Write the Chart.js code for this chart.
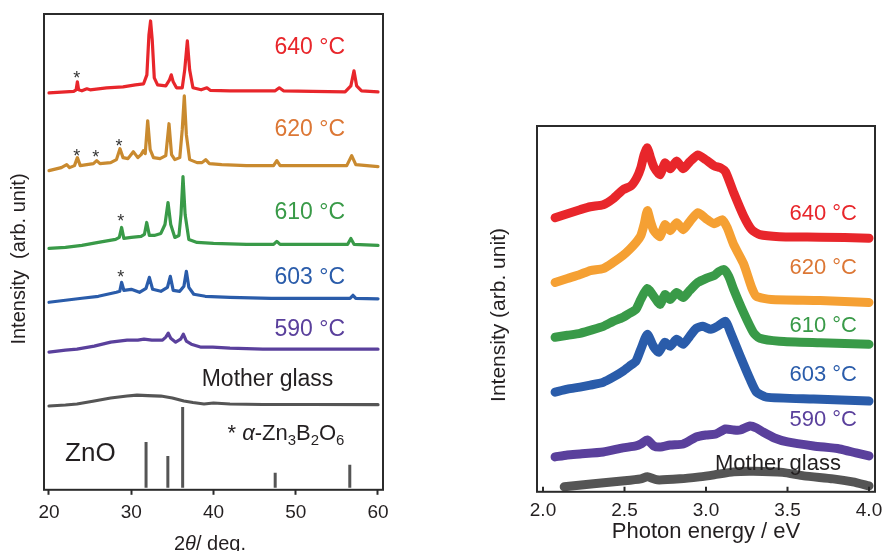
<!DOCTYPE html>
<html><head><meta charset="utf-8">
<script src="https://cdn.jsdelivr.net/npm/chart.js@4.4.1/dist/chart.umd.min.js"></script>
<style>
html,body{margin:0;padding:0;background:#fff;}
#wrap{position:relative;width:885px;height:551px;overflow:hidden;background:#fff;}
canvas{position:absolute;top:0;}
#cL{left:0;} #cR{left:470px;}
</style></head><body>
<div id="wrap"><canvas id="cL" width="420" height="551"></canvas><canvas id="cR" width="445" height="551"></canvas></div>
<script>
// ---------- Left panel: XRD (2θ in deg, intensity arb. units, offset stacked) ----------
const xrdTicks = [20, 30, 40, 50, 60];
const x640 = [20,22,23,23.3,23.45,23.6,24,24.6,25,27,29,30.5,31.5,31.9,32.15,32.35,32.55,32.8,33.2,34.2,34.65,34.87,35.1,35.5,36.2,36.5,36.82,37.1,37.5,38.5,39.2,39.6,42,45,47.5,48,48.5,52,56,56.7,57.08,57.4,58,60];
const y640 = [398,399,399.5,401,409,401,400,402,401,403,404,406,407,416,456,470,451,413,406,405,411,416,409,403,403,421,450,421,403,401,403,400.5,400,400,400,403,400,399.5,399,405,420,405,400,399];
const x620 = [20,21.5,22.15,22.5,23.1,23.45,23.8,25.4,25.8,26.2,27.5,28.2,28.63,29.0,29.6,30.25,30.8,31.2,31.47,31.7,32.0,32.3,32.7,33.5,34.2,34.59,34.9,35.3,35.9,36.2,36.45,36.7,37.1,38,38.6,39.05,39.5,41,44,47.3,47.7,48.1,52,56.2,56.8,57.3,60];
const y620 = [320,323,326,323,325,333,325,327,330,327,328,331,342,333,332,339,333,336,340,337,370,341,333,332,335,367,336,331,333,361,395,356,331,328,328,331,327,326,325,325,330,325,325,325,335,326,324];
const x610 = [20,22,24,26,28.1,28.55,28.83,29.1,30,31.2,31.6,31.88,32.2,32.8,33.6,34.1,34.47,34.8,35.3,35.8,36.05,36.29,36.55,37.0,38,40,44,47.3,47.7,48.1,52,56.3,56.7,57.1,60];
const y610 = [242,243,245,248,251,253,263,252,253,254,256,268,255,255,257,266,288,266,253,255,276,314,276,251,248,247,246,246,249,246,246,246,252,246,245];
const x603 = [20,22,24,26,28.2,28.6,28.83,29.1,30,31.0,31.8,32.2,32.6,33.6,34.4,34.75,35.1,35.9,36.4,36.7,37.0,37.6,39,42,47,52,56.6,56.96,57.3,60];
const y603 = [188,190,192,194,198,199,208,200,201,198,202,213,201,199,203,214,200,199,204,219,203,196,194,193,192,192,192,195,192,191.5];
const x590 = [20,22,23.4,25.5,27.5,29.5,30.8,31.55,32.5,33.8,34.2,34.5,34.8,35.4,36.0,36.33,36.7,37.3,38.5,39.9,42,46,50,55,60];
const y590 = [138,140,141,144,148,150,150,151,150,150,153,157,152,148,151,156,149,146,143,143,142,141,141,141,141];
const xMG = [20,22,23.4,25.5,27.5,29.5,30.7,32,33.6,35,36.4,37.5,38.85,40,42,46,52,60];
const yMG = [84,85,86,89,92,94,95,94.5,94,92,89,87.5,86,87,86,85.5,85.5,85.3];
const znoPos = [31.8, 34.45, 36.25, 47.5, 56.57];
const znoTop = [48, 34, 83, 17, 25];
const znoBase = 2;
// α-Zn3B2O6 peak markers (*): 2θ and height
const starX = [23.37, 23.37, 25.68, 28.51, 28.72, 28.72];
const starY = [416, 337.7, 337, 347.7, 272.7, 216];

// ---------- Right panel: spectra vs photon energy (eV) ----------
const eTicks = [2.0, 2.5, 3.0, 3.5, 4.0];
const e640 = [2.074,2.15,2.227,2.29,2.37,2.43,2.49,2.54,2.575,2.60,2.62,2.64,2.66,2.68,2.718,2.748,2.78,2.82,2.86,2.90,2.95,3.0,3.05,3.09,3.12,3.17,3.23,3.28,3.33,3.45,3.7,4.0];
const i640 = [275,279,283,286,288,294,303,307,315,325,338,345,335,326,318,330,324,332,324,331,338,333,327,325,321,300,277,263,258,256,255.5,254.5];
const e620 = [2.074,2.15,2.227,2.29,2.37,2.43,2.49,2.53,2.57,2.60,2.62,2.64,2.66,2.68,2.718,2.748,2.78,2.82,2.86,2.90,2.95,3.0,3.05,3.10,3.13,3.17,3.23,3.28,3.31,3.4,3.7,4.0];
const i620 = [210,214,218,222,224,230,237,243,250,257,268,282,271,262,256,268,262,270,263,271,280,274,269,273,265,248,229,205,196,193,192,190];
const e610 = [2.074,2.15,2.227,2.29,2.37,2.43,2.49,2.53,2.57,2.60,2.64,2.68,2.718,2.748,2.78,2.82,2.86,2.90,2.95,3.0,3.05,3.08,3.11,3.14,3.17,3.23,3.29,3.33,3.45,3.7,4.0];
const i610 = [155,157,159,162,166,171,175,179,183,193,204,196,188,198,193,200,195,202,210,214,217,221,223,216,203,180,160,154,151,149.5,148];
const e603 = [2.074,2.15,2.227,2.29,2.37,2.43,2.49,2.53,2.57,2.60,2.64,2.677,2.71,2.748,2.78,2.82,2.86,2.90,2.94,2.98,3.03,3.07,3.12,3.15,3.21,3.27,3.31,3.37,3.66,4.0];
const i603 = [100,103,105,107,110,115,121,126,131,143,158,146,140,150,146,153,148,156,164,166,163,166,171,160,136,113,100,95,93,91];
const e590 = [2.074,2.15,2.227,2.37,2.49,2.57,2.60,2.64,2.68,2.72,2.78,2.86,2.94,3.0,3.06,3.12,3.17,3.21,3.27,3.31,3.35,3.42,3.5,3.66,3.82,3.92,4.0];
const i590 = [35,37,38,40,44,46,48,52,46,45,47,48,55,57,58,63,62,62,66,64,60,54,50,46,43,39,36];
const eMG = [2.13,2.31,2.5,2.6,2.64,2.7,2.84,2.96,3.05,3.17,3.29,3.47,3.6,3.78,3.9,4.0];
const iMG = [5,8,11,13,15,12,13,15,17,20,20.5,19.5,16,13,10,6];

// ---------- styling ----------
const FONT = "'Liberation Sans', Arial, Helvetica, sans-serif";
const C = {red:'#e8262b', ochre:'#c98a2f', orange:'#f5a033', orangeText:'#dc7735', green:'#399a48', blue:'#2a5caa', purple:'#5a409c', grey:'#555555', text:'#231f20', frame:'#2b2b2b'};

const pts = (xs, ys) => xs.map((x, i) => ({x, y: ys[i]}));
function sticks(pos, tops, base) {
  const out = [];
  pos.forEach((p, i) => { out.push({x:p, y:base}, {x:p, y:tops[i]}, {x:p, y:null}); });
  return out;
}

function drawRich(ctx, segs, x, yc, size, color, align) {
  const parts = segs.map(([t, f]) => {
    f = f || '';
    const sub = f.includes('s'), it = f.includes('i');
    const sz = sub ? size * 0.68 : size;
    const font = (it ? 'italic ' : '') + sz + 'px ' + FONT;
    ctx.font = font;
    return {t, font, w: ctx.measureText(t).width, dy: sub ? size * 0.22 : 0};
  });
  const total = parts.reduce((a, p) => a + p.w, 0);
  let cx = align === 'right' ? x - total : align === 'center' ? x - total / 2 : x;
  const base = yc + size * 0.36;
  ctx.fillStyle = color; ctx.textBaseline = 'alphabetic'; ctx.textAlign = 'left';
  parts.forEach(p => { ctx.font = p.font; ctx.fillText(p.t, cx, base + p.dy); cx += p.w; });
}

const decor = {
  id: 'decor',
  afterDraw(chart, args, opts) {
    const ctx = chart.ctx, a = chart.chartArea, sx = chart.scales.x, sy = chart.scales.y;
    ctx.save();
    ctx.strokeStyle = C.frame; ctx.lineWidth = 2;
    ctx.strokeRect(a.left, a.top, a.right - a.left, a.bottom - a.top);
    if (opts.insideTicks) {
      ctx.beginPath();
      opts.insideTicks.forEach(v => { const px = sx.getPixelForValue(v); ctx.moveTo(px, a.bottom); ctx.lineTo(px, a.bottom - 5); });
      ctx.stroke();
    }
    (opts.stars || []).forEach(s => {
      ctx.font = '18px ' + FONT; ctx.fillStyle = '#333'; ctx.textAlign = 'center'; ctx.textBaseline = 'middle';
      ctx.fillText('*', sx.getPixelForValue(s.x), sy.getPixelForValue(s.y) + 4);
    });
    (opts.labels || []).forEach(l => {
      drawRich(ctx, l.segs, sx.getPixelForValue(l.x), sy.getPixelForValue(l.y), l.size, l.color, l.align);
    });
    (opts.titles || []).forEach(t => {
      ctx.save();
      ctx.translate(t.px, t.py);
      if (t.rot) ctx.rotate(t.rot);
      drawRich(ctx, t.segs, 0, 0, t.size, C.text, 'center');
      ctx.restore();
    });
    ctx.restore();
  }
};

function lineDS(data, color, width, tension) {
  return {data, borderColor: color, backgroundColor: color, borderWidth: width, pointRadius: 0,
          tension: tension, borderCapStyle: 'round', borderJoinStyle: 'round', spanGaps: false};
}

function xScale(min, max, tickVals, fmt, pad, outsideTicks) {
  return {
    type: 'linear', min, max, offset: false,
    afterBuildTicks: s => { s.ticks = tickVals.map(v => ({value: v})); },
    ticks: {color: C.text, font: {family: FONT, size: 19}, padding: pad, maxRotation: 0, autoSkip: false,
            callback: v => fmt(v)},
    grid: outsideTicks ? {display: true, drawOnChartArea: false, drawTicks: true, tickLength: 5, tickWidth: 2, tickColor: C.frame}
                       : {display: false, drawTicks: false},
    border: {display: false}
  };
}

new Chart(document.getElementById('cL'), {
  type: 'line',
  data: {datasets: [
    Object.assign(lineDS(sticks(znoPos, znoTop, znoBase), C.grey, 3, 0), {borderCapStyle: 'butt'}),
    lineDS(pts(xMG, yMG), C.grey, 3.2, 0),
    lineDS(pts(x590, y590), C.purple, 3.2, 0),
    lineDS(pts(x603, y603), C.blue, 3.2, 0),
    lineDS(pts(x610, y610), C.green, 3.2, 0),
    lineDS(pts(x620, y620), C.ochre, 3.2, 0),
    lineDS(pts(x640, y640), C.red, 3.2, 0)
  ]},
  options: {
    responsive: false, animation: false, devicePixelRatio: 1,
    layout: {padding: {left: 44, right: 37, top: 14, bottom: 19.4}},
    scales: {
      x: xScale(20 - 5 / 8.225, 60 + 5 / 8.225, xrdTicks, v => String(v), 7, true),
      y: {type: 'linear', min: 0, max: 477, display: false}
    },
    plugins: {
      legend: {display: false}, tooltip: {enabled: false},
      decor: {
        stars: starX.map((x, i) => ({x, y: starY[i]})),
        labels: [
          {x: 56.0, y: 445, segs: [['640 °C']], size: 23, color: C.red, align: 'right'},
          {x: 56.0, y: 362.5, segs: [['620 °C']], size: 23, color: C.orangeText, align: 'right'},
          {x: 56.0, y: 280, segs: [['610 °C']], size: 23, color: C.green, align: 'right'},
          {x: 56.0, y: 215, segs: [['603 °C']], size: 23, color: C.blue, align: 'right'},
          {x: 56.0, y: 162.5, segs: [['590 °C']], size: 23, color: C.purple, align: 'right'},
          {x: 46.57, y: 112, segs: [['Mother glass']], size: 23, color: C.text, align: 'center'},
          {x: 21.95, y: 38, segs: [['ZnO']], size: 26, color: C.text, align: 'left'},
          {x: 41.7, y: 58, segs: [['* '], ['α', 'i'], ['-Zn'], ['3', 's'], ['B'], ['2', 's'], ['O'], ['6', 's']], size: 22, color: C.text, align: 'left'}
        ],
        titles: [
          {px: 210, py: 543, segs: [['2'], ['θ', 'i'], ['/ deg.']], size: 20},
          {px: 18, py: 259, rot: -Math.PI / 2, segs: [['Intensity  (arb. unit)']], size: 20}
        ]
      }
    }
  },
  plugins: [decor]
});

new Chart(document.getElementById('cR'), {
  type: 'line',
  data: {datasets: [
    lineDS(pts(eMG, iMG), C.grey, 9, 0.2),
    lineDS(pts(e590, i590), C.purple, 9, 0.2),
    lineDS(pts(e603, i603), C.blue, 9, 0.2),
    lineDS(pts(e610, i610), C.green, 9, 0.2),
    lineDS(pts(e620, i620), C.orange, 9, 0.2),
    lineDS(pts(e640, i640), C.red, 9, 0.2)
  ]},
  options: {
    responsive: false, animation: false, devicePixelRatio: 1,
    layout: {padding: {left: 67, right: 40, top: 126, bottom: 20.4}},
    scales: {
      x: xScale(2 - 6 / 163, 4 + 6 / 163, eTicks, v => v.toFixed(1), 8, false),
      y: {type: 'linear', min: 0, max: 367, display: false}
    },
    plugins: {
      legend: {display: false}, tooltip: {enabled: false},
      decor: {
        insideTicks: eTicks,
        labels: [
          {x: 3.926, y: 281, segs: [['640 °C']], size: 22, color: C.red, align: 'right'},
          {x: 3.926, y: 226.5, segs: [['620 °C']], size: 22, color: C.orangeText, align: 'right'},
          {x: 3.926, y: 168, segs: [['610 °C']], size: 22, color: C.green, align: 'right'},
          {x: 3.926, y: 119.5, segs: [['603 °C']], size: 22, color: C.blue, align: 'right'},
          {x: 3.926, y: 74, segs: [['590 °C']], size: 22, color: C.purple, align: 'right'},
          {x: 3.828, y: 29.5, segs: [['Mother glass']], size: 22, color: C.text, align: 'right'}
        ],
        titles: [
          {px: 236, py: 530, segs: [['Photon energy / eV']], size: 22},
          {px: 27, py: 315, rot: -Math.PI / 2, segs: [['Intensity (arb. unit)']], size: 21}
        ]
      }
    }
  },
  plugins: [decor]
});
</script>
</body></html>
